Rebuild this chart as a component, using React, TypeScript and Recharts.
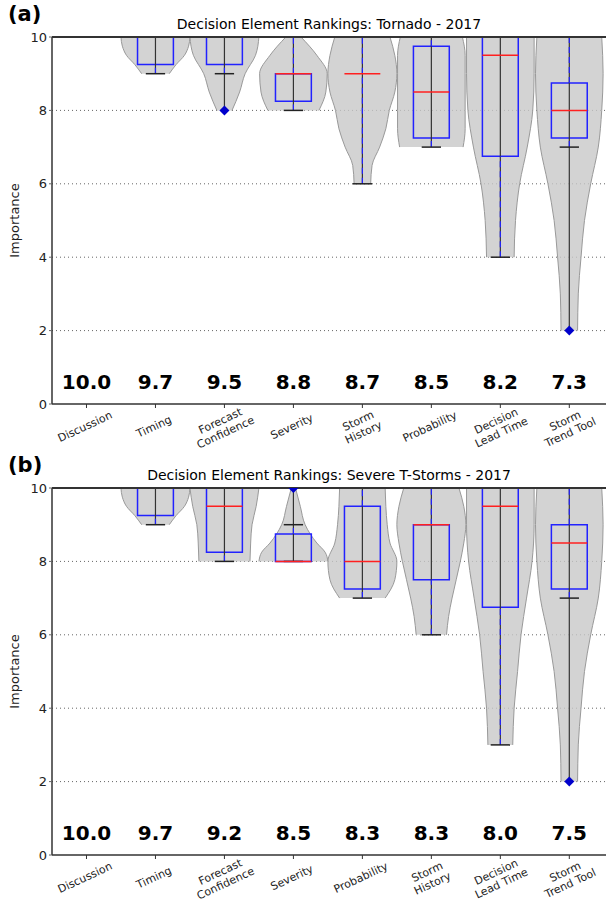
import React from 'react';
import {
  ComposedChart,
  Area,
  Scatter,
  XAxis,
  YAxis,
  CartesianGrid,
  ReferenceLine,
  ReferenceArea,
  ReferenceDot,
} from 'recharts';

const categoriesA = ['Discussion', 'Timing', 'Forecast\nConfidence', 'Severity', 'Storm\nHistory', 'Probability', 'Decision\nLead Time', 'Storm\nTrend Tool'];
const categoriesB = ['Discussion', 'Timing', 'Forecast\nConfidence', 'Severity', 'Probability', 'Storm\nHistory', 'Decision\nLead Time', 'Storm\nTrend Tool'];

const meansA = ['10.0', '9.7', '9.5', '8.8', '8.7', '8.5', '8.2', '7.3'];
const meansB = ['10.0', '9.7', '9.2', '8.5', '8.3', '8.3', '8.0', '7.5'];

// [whiskerLow, q1, median, q3, whiskerHigh, min, max]
const boxesA = [
  null,
  [9, 9.25, 10, 10, 10, 9, 10],
  [9, 9.25, 10, 10, 10, 8, 10],
  [8, 8.25, 9, 9, 10, 8, 10],
  [6, 9, 9, 9, 10, 6, 10],
  [7, 7.25, 8.5, 9.75, 10, 7, 10],
  [4, 6.75, 9.5, 10, 10, 4, 10],
  [7, 7.25, 8, 8.75, 10, 2, 10],
];
const boxesB = [
  null,
  [9, 9.25, 10, 10, 10, 9, 10],
  [8, 8.25, 9.5, 10, 10, 8, 10],
  [8, 8, 8, 8.75, 9, 8, 10],
  [7, 7.25, 8, 9.5, 10, 7, 10],
  [6, 7.5, 9, 9, 10, 6, 10],
  [3, 6.75, 9.5, 10, 10, 3, 10],
  [7, 7.25, 8.5, 9, 10, 2, 10],
];

const fliersA = [{ x: 2, v: 8 }, { x: 7, v: 2 }];
const fliersB = [{ x: 3, v: 10 }, { x: 7, v: 2 }];

// violin half-widths: [value, halfWidth]
const violinsA: number[][][] = [
  [],
  [[9, 0.2], [9.25, 0.3], [9.5, 0.42], [9.75, 0.48], [10, 0.5]],
  [[8, 0.11], [8.5, 0.22], [9, 0.3], [9.5, 0.45], [10, 0.5]],
  [[8, 0.37], [8.5, 0.47], [9, 0.49], [9.5, 0.34], [10, 0.11]],
  [[6, 0.12], [6.5, 0.14], [7, 0.25], [7.5, 0.34], [8, 0.39], [8.5, 0.47], [9, 0.5], [9.5, 0.47], [10, 0.4]],
  [[7, 0.46], [7.5, 0.49], [8, 0.49], [9, 0.49], [9.5, 0.49], [10, 0.45]],
  [[4, 0.2], [5, 0.22], [6, 0.28], [7, 0.39], [8, 0.47], [9, 0.49], [10, 0.49]],
  [[2, 0.12], [3, 0.13], [4, 0.17], [5, 0.22], [6, 0.31], [7, 0.42], [8, 0.47], [9, 0.49], [10, 0.47]],
];
const violinsB: number[][][] = [
  [],
  [[9, 0.2], [9.25, 0.3], [9.5, 0.42], [9.75, 0.48], [10, 0.5]],
  [[8, 0.37], [8.5, 0.38], [9, 0.4], [9.5, 0.46], [10, 0.5]],
  [[8, 0.5], [8.25, 0.46], [8.5, 0.34], [9, 0.17], [9.5, 0.1], [10, 0.03]],
  [[7, 0.33], [7.5, 0.47], [8, 0.5], [8.5, 0.4], [9, 0.36], [9.5, 0.34], [10, 0.33]],
  [[6, 0.22], [6.5, 0.25], [7, 0.3], [7.5, 0.36], [8, 0.42], [8.5, 0.47], [9, 0.5], [9.5, 0.47], [10, 0.4]],
  [[3, 0.18], [4, 0.2], [5, 0.25], [6, 0.3], [7, 0.38], [8, 0.46], [9, 0.49], [10, 0.49]],
  [[2, 0.12], [3, 0.13], [4, 0.17], [5, 0.22], [6, 0.31], [7, 0.42], [8, 0.47], [9, 0.49], [10, 0.47]],
];

const FONT = 'DejaVu Sans, sans-serif';
const BOX_W = 0.26;
const CAP_W = 0.14;

const Tick = (props: any) => {
  const { x, y, payload, cats } = props;
  const lines = String(cats[payload.value] ?? '').split('\n');
  return (
    <g transform={`translate(${x},${y + 20}) rotate(-25)`}>
      {lines.map((l: string, i: number) => (
        <text key={i} x={0} y={(i - (lines.length - 1) / 2) * 12.5} textAnchor="middle" fontSize={11} fontFamily={FONT} fill="#222">
          {l}
        </text>
      ))}
    </g>
  );
};

const Panel = ({ tag, title, cats, means, boxes, fliers, violins, height }: any) => {
  const seg = (x1: number, y1: number, x2: number, y2: number) => [{ x: x1, y: y1 }, { x: x2, y: y2 }] as any;
  return (
    <div style={{ position: 'relative', width: 612, height }}>
      <div style={{ position: 'absolute', left: 8, top: 2, fontFamily: FONT, fontWeight: 'bold', fontSize: 21 }}>{tag}</div>
      <div style={{ position: 'absolute', left: 52, width: 554, top: 16, textAlign: 'center', fontFamily: FONT, fontSize: 14 }}>{title}</div>
      <ComposedChart width={612} height={height} layout="vertical" margin={{ top: 37, right: 2, bottom: height - 404 - 30, left: 0 }}>
        <CartesianGrid horizontal vertical={false} stroke="#666" strokeDasharray="1 3" horizontalValues={[2, 4, 6, 8]} />
        <XAxis type="number" domain={[-0.5, 7.59]} ticks={[0, 1, 2, 3, 4, 5, 6, 7]} allowDataOverflow height={30}
          tick={<Tick cats={cats} />} tickLine={{ stroke: '#333' }} tickSize={4} axisLine={{ stroke: '#333', strokeWidth: 1.5 }} interval={0} />
        <YAxis type="number" dataKey="y" domain={[0, 10]} ticks={[0, 2, 4, 6, 8, 10]} width={52} allowDataOverflow reversed
          tick={{ fontSize: 13, fontFamily: FONT, fill: '#222' }} tickSize={3} axisLine={{ stroke: '#333', strokeWidth: 1.5 }}
          label={{ value: 'Importance', angle: -90, position: 'insideLeft', offset: 14, style: { fontSize: 13, fontFamily: FONT, fill: '#222', textAnchor: 'middle' } }} />
        {violins.map((v: number[][], i: number) => v.length ? (
          <Area key={'v' + i} data={v.map((p) => ({ y: p[0], r: [i - p[1], i + p[1]] }))} dataKey="r" type="monotone" isAnimationActive={false}
            fill="#c8c8c8" fillOpacity={0.8} stroke="#999" strokeWidth={1} dot={false} activeDot={false} />
        ) : null)}
        {boxes.map((b: number[] | null, i: number) => {
          if (!b) return null;
          const [wl, q1, med, q3, wh, mn, mx] = b;
          return (
            <React.Fragment key={'b' + i}>
              <ReferenceLine segment={seg(i, mn, i, mx)} stroke="#333" strokeWidth={1.2} />
              {q1 > wl && <ReferenceLine segment={seg(i, wl, i, q1)} stroke="#2222ff" strokeDasharray="6 4" strokeWidth={1.2} />}
              {wh > q3 && <ReferenceLine segment={seg(i, q3, i, wh)} stroke="#2222ff" strokeDasharray="6 4" strokeWidth={1.2} />}
              <ReferenceLine segment={seg(i - CAP_W, wl, i + CAP_W, wl)} stroke="#222" strokeWidth={1.5} />
              {wh < 10 && <ReferenceLine segment={seg(i - CAP_W, wh, i + CAP_W, wh)} stroke="#222" strokeWidth={1.5} />}
              {q3 > q1 && <ReferenceArea x1={i - BOX_W} x2={i + BOX_W} y1={q1} y2={q3} fill="none" fillOpacity={0} stroke="#2222ff" strokeWidth={1.5} />}
              {med < 10 && <ReferenceLine segment={seg(i - BOX_W, med, i + BOX_W, med)} stroke="#ff2020" strokeWidth={1.5} />}
            </React.Fragment>
          );
        })}
        <ReferenceLine y={10} stroke="#333" strokeWidth={1.8} />
        <Scatter data={fliers.map((f: any) => ({ x: f.x, y: f.v }))} dataKey="x" isAnimationActive={false} fill="#0000cc"
          shape={(p: any) => {
            const px = p.cx, py = p.cy;
            return <polygon points={`${px},${py - 5} ${px + 5},${py} ${px},${py + 5} ${px - 5},${py}`} fill="#0000cc" />;
          }} />
        {means.map((m: string, i: number) => (
          <ReferenceDot key={'m' + i} x={i} y={0.6} r={0} fill="none" stroke="none"
            label={{ value: m, position: 'center', style: { fontSize: 20, fontWeight: 'bold', fontFamily: FONT, fill: '#000' } }} />
        ))}
      </ComposedChart>
    </div>
  );
};

export default function App() {
  return (
    <div style={{ position: 'absolute', left: 0, top: 0, width: 606, height: 907, overflow: 'hidden', background: '#fff' }}>
      <Panel tag="(a)" title="Decision Element Rankings: Tornado - 2017" cats={categoriesA} means={meansA}
        boxes={boxesA} fliers={fliersA} violins={violinsA} height={451} />
      <Panel tag="(b)" title="Decision Element Rankings: Severe T-Storms - 2017" cats={categoriesB} means={meansB}
        boxes={boxesB} fliers={fliersB} violins={violinsB} height={456} />
    </div>
  );
}
